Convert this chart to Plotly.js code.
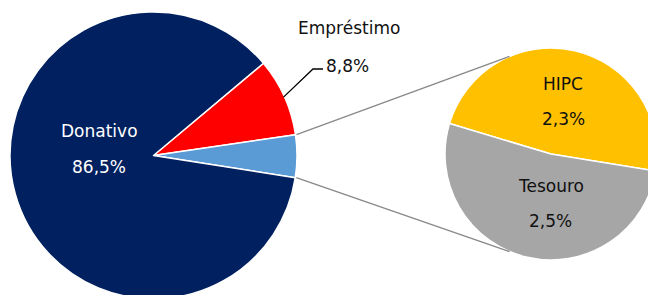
<!DOCTYPE html>
<html>
<head>
<meta charset="utf-8">
<script src="https://cdn.plot.ly/plotly-3.0.1.min.js"></script>
<style>
html,body{margin:0;padding:0;overflow:hidden;background:#fff;}
#chart{width:660px;height:300px;}
</style>
</head>
<body>
<div id="chart"></div>
<script>
// ---- data ----
const mainLabels = ['Empréstimo', 'HIPC + Tesouro', 'Donativo'];
const emprestimo = 8.8;
const donativo = 86.5;
const subLabels = ['HIPC', 'Tesouro'];
const subValues = [2.3, 2.5];
const outros = subValues[0] + subValues[1];
const mainValues = [emprestimo, outros, donativo];

const mainColors = ['#FF0000', '#5B9BD5', '#002060'];
const subColors = ['#FFC000', '#A6A6A6'];

// ---- geometry (pixels) ----
const W = 660, H = 300;
const mc = {x: 153.5, y: 155.5, r: 143.5};
const sc = {x: 551, y: 154, r: 106};
const mainRot = 50;       // degrees clockwise from 12 o'clock
const subRot = -73.3;

const px = x => x / W;
const py = y => 1 - y / H;
const fmt = v => v.toFixed(1).replace('.', ',') + '%';

const total = mainValues.reduce((a, b) => a + b, 0);
function mainPoint(cumFrac, rr) {
  const ang = (mainRot + cumFrac * 360) * Math.PI / 180;
  return {x: mc.x + rr * Math.sin(ang), y: mc.y - rr * Math.cos(ang)};
}

const traces = [
  {
    type: 'pie', labels: mainLabels, values: mainValues, sort: false,
    direction: 'clockwise', rotation: mainRot, textinfo: 'none',
    hoverinfo: 'label+percent', showlegend: false,
    marker: {colors: mainColors, line: {color: '#ffffff', width: 1.5}},
    domain: {x: [px(mc.x - mc.r), px(mc.x + mc.r)], y: [py(mc.y + mc.r), py(mc.y - mc.r)]}
  },
  {
    type: 'pie', labels: subLabels, values: subValues, sort: false,
    direction: 'clockwise', rotation: subRot, textinfo: 'none',
    hoverinfo: 'label', showlegend: false,
    marker: {colors: subColors, line: {color: '#ffffff', width: 1.5}},
    domain: {x: [px(sc.x - sc.r), px(sc.x + sc.r)], y: [py(sc.y + sc.r), py(sc.y - sc.r)]}
  }
];

// connector lines from the small slice to the secondary pie
const f0 = emprestimo / total, f1 = (emprestimo + outros) / total;
const pA = mainPoint(f0, mc.r), pB = mainPoint(f1, mc.r);
const tA = 23 * Math.PI / 180;
const qA = {x: sc.x - sc.r * Math.sin(tA), y: sc.y - sc.r * Math.cos(tA)};
const qB = {x: sc.x - sc.r * Math.sin(tA), y: sc.y + sc.r * Math.cos(tA)};
const pE = mainPoint(f0 / 2, mc.r - 1);

const shapes = [
  {type: 'line', xref: 'paper', yref: 'paper', x0: px(pA.x + 1), y0: py(pA.y), x1: px(qA.x), y1: py(qA.y), line: {color: '#888888', width: 1.3}},
  {type: 'line', xref: 'paper', yref: 'paper', x0: px(pB.x + 1), y0: py(pB.y), x1: px(qB.x), y1: py(qB.y), line: {color: '#888888', width: 1.3}},
  {type: 'path', xref: 'paper', yref: 'paper',
   path: 'M' + px(pE.x) + ',' + py(pE.y) + ' L' + px(313) + ',' + py(69) + ' L' + px(323) + ',' + py(69),
   line: {color: '#000000', width: 1.3}}
];

const fontBase = {family: 'DejaVu Sans, Arial, sans-serif', size: 17};
function ann(text, x, y, color) {
  return {text: text, x: px(x), y: py(y), xref: 'paper', yref: 'paper',
          xanchor: 'center', yanchor: 'middle', showarrow: false,
          font: Object.assign({}, fontBase, {color: color})};
}
const annotations = [
  ann(mainLabels[2], 99, 131, '#ffffff'),
  ann(fmt(donativo), 99, 167, '#ffffff'),
  ann(mainLabels[0], 349, 28, '#111111'),
  ann(fmt(emprestimo), 347, 66, '#111111'),
  ann(subLabels[0], 563, 84, '#111111'),
  ann(fmt(subValues[0]), 563, 119, '#111111'),
  ann(subLabels[1], 551, 186, '#111111'),
  ann(fmt(subValues[1]), 550, 221, '#111111')
];

Plotly.newPlot('chart', traces, {
  width: W, height: H,
  margin: {l: 0, r: 0, t: 0, b: 0},
  paper_bgcolor: '#ffffff', plot_bgcolor: '#ffffff',
  shapes: shapes, annotations: annotations, showlegend: false
}, {displayModeBar: false, staticPlot: true});
</script>
</body>
</html>
